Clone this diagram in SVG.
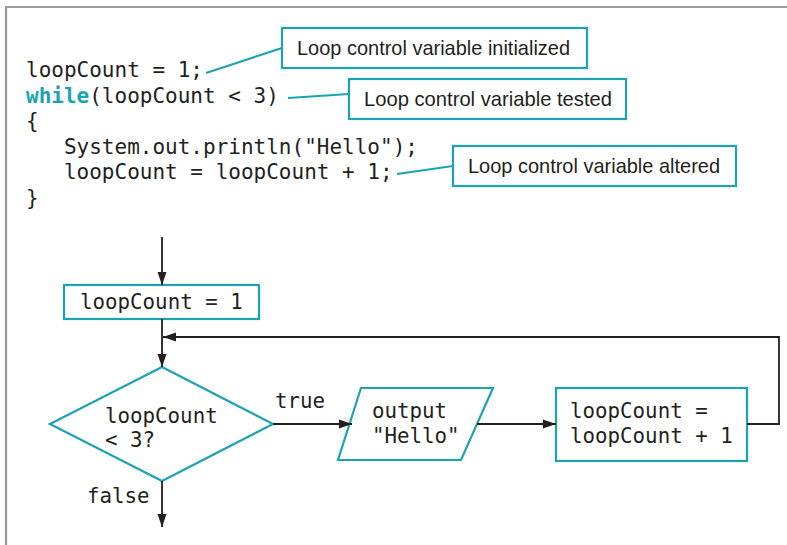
<svg xmlns="http://www.w3.org/2000/svg" width="787" height="545" viewBox="0 0 787 545">
<style>
.frame{fill:none;stroke:#9a9a9c;stroke-width:2.2}
.box{fill:#fff;stroke:#1aa3b2;stroke-width:2.2}
.lead{fill:none;stroke:#1aa3b2;stroke-width:2.2}
.code{font-family:"DejaVu Sans Mono","Liberation Mono",monospace;font-size:21px;fill:#231f20}
.kw{font-weight:bold;fill:#1aa3b2}
.lbl{font-family:"Liberation Sans",Arial,sans-serif;font-size:21px;fill:#231f20}
.fc{font-family:"DejaVu Sans Mono","Liberation Mono",monospace;font-size:20.8px;fill:#231f20}
.conn{fill:none;stroke:#231f20;stroke-width:1.8}
</style>
<defs>
<marker id="ah" viewBox="0 0 13 10" refX="13" refY="5" markerWidth="13" markerHeight="10" markerUnits="userSpaceOnUse" orient="auto">
<path d="M0,0.5 L13,5 L0,9.5 z" fill="#231f20"/>
</marker>
</defs>
<rect width="787" height="545" fill="#fff"/>
<path class="frame" d="M6,545 V7 H787"/>

<g id="code">
<text class="code" x="26" y="77" xml:space="preserve">loopCount = 1;</text>
<text class="code" x="26" y="102.5" xml:space="preserve"><tspan class="kw">while</tspan>(loopCount &lt; 3)</text>
<text class="code" x="26" y="128" xml:space="preserve">{</text>
<text class="code" x="26" y="153.5" xml:space="preserve">   System.out.println("Hello");</text>
<text class="code" x="26" y="179" xml:space="preserve">   loopCount = loopCount + 1;</text>
<text class="code" x="26" y="204.5" xml:space="preserve">}</text>
</g>

<g id="callout-init">
<rect class="box" x="282" y="28" width="305" height="40"/>
<text class="lbl" x="297" y="55" textLength="273" lengthAdjust="spacingAndGlyphs">Loop control variable initialized</text>
</g>
<g id="callout-tested">
<rect class="box" x="349" y="79" width="277" height="40"/>
<text class="lbl" x="364" y="106" textLength="248" lengthAdjust="spacingAndGlyphs">Loop control variable tested</text>
</g>
<g id="callout-altered">
<rect class="box" x="453" y="146" width="283" height="40"/>
<text class="lbl" x="468" y="173" textLength="252" lengthAdjust="spacingAndGlyphs">Loop control variable altered</text>
</g>

<g id="leaders">
<path class="lead" d="M206,73 L282,48"/>
<path class="lead" d="M288,98 L349,94"/>
<path class="lead" d="M397,174 L453,166"/>
</g>

<g id="init">
<rect class="box" x="64" y="285" width="195" height="34"/>
<text class="fc" x="80" y="309">loopCount = 1</text>
</g>
<g id="decision">
<path class="box" d="M162,367 L273,424 L162,481 L50,424 Z"/>
<text class="fc" x="105" y="423">loopCount</text>
<text class="fc" x="105" y="447">&lt; 3?</text>
</g>
<g id="output">
<path class="box" d="M361,388 L493,388 L461,460 L338,460 Z"/>
<text class="fc" x="372" y="418">output</text>
<text class="fc" x="372" y="443">"Hello"</text>
</g>
<g id="increment">
<rect class="box" x="556" y="388" width="191" height="73"/>
<text class="fc" x="570" y="418">loopCount =</text>
<text class="fc" x="570" y="443">loopCount + 1</text>
</g>

<g id="connectors">
<path class="conn" d="M162,237 V285" marker-end="url(#ah)"/>
<path class="conn" d="M162,319 V367" marker-end="url(#ah)"/>
<path class="conn" d="M747,424 H779 V337 H163" marker-end="url(#ah)"/>
<path class="conn" d="M273,424 H352" marker-end="url(#ah)"/>
<path class="conn" d="M477,424 H556" marker-end="url(#ah)"/>
<path class="conn" d="M162,481 V527" marker-end="url(#ah)"/>
<text class="fc" x="275" y="408">true</text>
<text class="fc" x="87" y="503">false</text>
</g>
</svg>
